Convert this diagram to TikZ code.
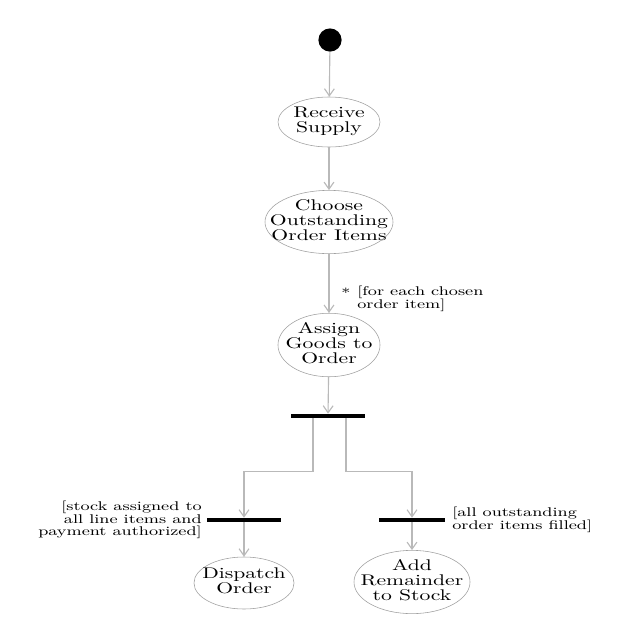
\documentclass[tikz,border=0pt]{standalone}
\usepackage{fontspec}
\setmainfont{Latin Modern Roman}[FakeStretch=1.4]
\usepackage{tikz}
\usetikzlibrary{arrows.meta, positioning, shapes.geometric, calc}

% text of an activity, not widening its ellipse
\newcommand{\acttext}[1]{\makebox[0pt]{\begin{tabular}{@{}c@{}}#1\end{tabular}}}

\begin{document}
\begin{tikzpicture}[x=0.025cm, y=-0.025cm,
    act/.style={draw=gray!75, ellipse, minimum width=2.55cm, minimum height=1.25cm, inner sep=0pt,
                font=\fontsize{11}{9.5}\selectfont},
    bar/.style={fill=black, minimum height=0.1cm, inner sep=0pt},
    flow/.style={-{Straight Barb[length=5pt, width=7pt]}, gray!55, thick},
    guard/.style={font=\fontsize{9}{9}\selectfont, inner sep=0pt}
]
\useasboundingbox (0,0) rectangle (640,640);

% Start and activities
\node[circle, fill=black, minimum size=0.58cm, inner sep=0pt] (start) at (330,40) {};
\node[act] (recv) at (329,122) {\acttext{Receive\\Supply}};
\node[act, minimum width=3.2cm] (choose) at (329,222) {\acttext{Choose\\Outstanding\\Order Items}};
\node[act] (assign) at (329,345) {\acttext{Assign\\Goods to\\Order}};

% Fork and joins
\node[bar, minimum width=1.85cm] (fork) at (328,416) {};
\node[bar, minimum width=1.85cm] (joinL) at (244,520) {};
\node[bar, minimum width=1.65cm] (joinR) at (412,520) {};

\node[act, minimum width=2.5cm, minimum height=1.3cm] (dispatch) at (244,583) {\acttext{Dispatch\\Order}};
\node[act, minimum width=2.9cm] (addst) at (412,582) {\acttext{Add\\Remainder\\to Stock}};

% Flow down the middle
\draw[flow] (start) -- (recv);
\draw[flow] (recv) -- (choose);
\draw[flow] (choose) -- (assign);
\draw[flow] (assign) -- (fork);

% Split to the two joins
\draw[flow] ($(fork.south)+(-15,0)$) -- ++(0,53) -| (joinL.north);
\draw[flow] ($(fork.south)+(18,0)$) -- ++(0,53) -| (joinR.north);
\draw[flow] (joinL) -- (dispatch);
\draw[flow] (joinR) -- (addst);

% Guards
\node[guard, anchor=west] (star) at (341,293) {*};
\node[guard, anchor=north west, align=left] (each) at (357,286) {[for each chosen\\order item]};
\node[guard, anchor=east, align=right] (gL) at (202,520) {[stock assigned to\\all line items and\\payment authorized]};
\node[guard, anchor=west, align=left] (gR) at (452,520) {[all outstanding\\order items filled]};
\end{tikzpicture}
\end{document}
